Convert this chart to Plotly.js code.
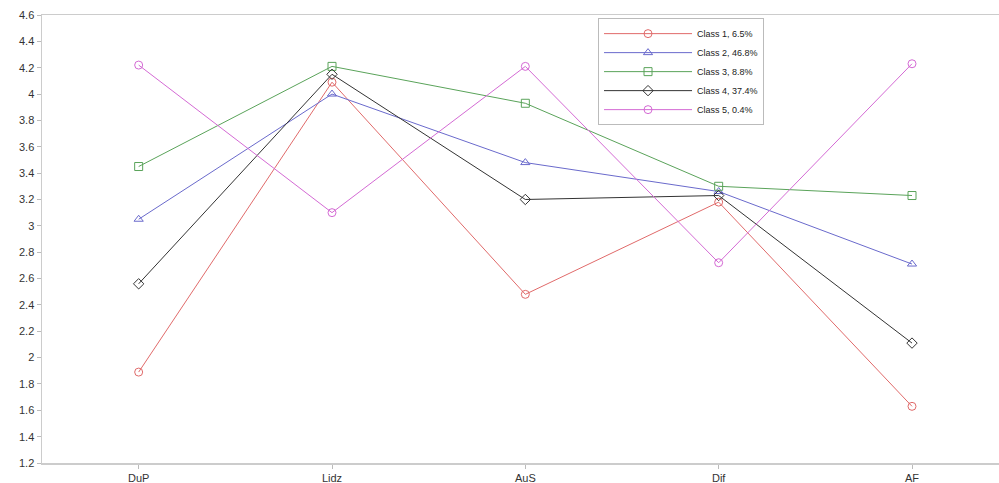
<!DOCTYPE html>
<html>
<head>
<meta charset="utf-8">
<script src="https://cdn.plot.ly/plotly-3.0.1.min.js"></script>
<style>html,body{margin:0;padding:0;background:#fff;}#chart{width:999px;height:483px;}</style>
</head>
<body>
<div id="chart"></div>
<script>
const categories = ["DuP", "Lidz", "AuS", "Dif", "AF"];
const class1 = [1.89, 4.09, 2.48, 3.18, 1.63];
const class2 = [3.05, 4.00, 3.48, 3.26, 2.71];
const class3 = [3.45, 4.21, 3.93, 3.30, 3.23];
const class4 = [2.56, 4.15, 3.20, 3.23, 2.11];
const class5 = [4.22, 3.10, 4.21, 2.72, 4.23];
const seriesNames = ["Class 1, 6.5%", "Class 2, 46.8%", "Class 3, 8.8%", "Class 4, 37.4%", "Class 5, 0.4%"];
const yTicks = [1.2,1.4,1.6,1.8,2,2.2,2.4,2.6,2.8,3,3.2,3.4,3.6,3.8,4,4.2,4.4,4.6];

const colors = ["#e06a6a", "#6a6acc", "#5aa35a", "#333333", "#d46ad4"];
const symbols = ["circle-open", "triangle-up-open", "square-open", "diamond-open", "circle-open"];
const data = [class1, class2, class3, class4, class5].map((vals, i) => ({
  type: "scatter",
  mode: "lines+markers",
  x: categories,
  y: vals,
  name: seriesNames[i],
  line: {color: colors[i], width: 1},
  marker: {symbol: symbols[i], size: 8, color: colors[i], line: {width: 1, color: colors[i]}}
}));

const layout = {
  width: 999, height: 483,
  margin: {l: 42, r: 0, t: 15, b: 20},
  paper_bgcolor: "#fff", plot_bgcolor: "#fff",
  font: {family: "Liberation Sans, Arial, sans-serif", size: 11, color: "#333"},
  showlegend: true,
  legend: {
    x: 0.581, y: 0.993, xanchor: "left", yanchor: "top",
    bordercolor: "#bbb", borderwidth: 1, bgcolor: "#fff",
    font: {size: 9, color: "#222"},
    itemwidth: 88, tracegroupgap: 0
  },
  xaxis: {
    type: "category",
    range: [-0.5, 4.45],
    showgrid: false, zeroline: false,
    showline: true, linecolor: "#cccccc", linewidth: 1.5, mirror: true,
    ticks: "outside", ticklen: 4, tickcolor: "#bbb",
    tickfont: {size: 11, color: "#333"}
  },
  yaxis: {
    range: [1.2, 4.6],
    tickvals: yTicks,
    showgrid: false, zeroline: false,
    showline: true, linecolor: "#cccccc", linewidth: 1.5,
    ticks: "outside", ticklen: 4, tickcolor: "#bbb",
    tickfont: {size: 11, color: "#333"}
  }
};
Plotly.newPlot("chart", data, layout, {displayModeBar: false, staticPlot: true});
</script>
</body>
</html>
